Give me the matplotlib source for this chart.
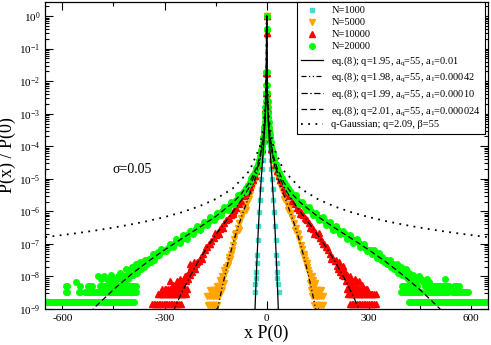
import numpy as np
import matplotlib
matplotlib.use('Agg')
import matplotlib.pyplot as plt
from matplotlib.ticker import LogLocator, MultipleLocator, NullFormatter, LogFormatterMathtext

plt.rcParams['font.family'] = ['Liberation Serif', 'DejaVu Serif']
plt.rcParams['mathtext.fontset'] = 'custom'
plt.rcParams['mathtext.rm'] = 'Liberation Serif'
plt.rcParams['mathtext.it'] = 'Liberation Serif:italic'
plt.rcParams['mathtext.default'] = 'regular'
plt.rcParams['axes.unicode_minus'] = False

# ---------------- data (x = x P(0), values given as log10 of P(x)/P(0)) ----------------
# model curves, right half (symmetric)
eqA_x = [0, 0.2, 0.5, 1, 2, 3, 5, 8, 12, 16, 20, 25, 30, 33, 35]
eqA_ly = [0, -0.516, -1.209, -1.819, -2.453, -2.833, -3.336, -3.856, -4.428, -5.007,
          -5.664, -6.650, -7.846, -8.666, -9.257]
eqB_x = [0, 0.2, 0.5, 1, 2, 3, 5, 10, 20, 30, 40, 50, 60, 70, 80, 90, 100, 110, 120,
         130, 140, 145]
eqB_ly = [0, -0.509, -1.185, -1.775, -2.384, -2.742, -3.196, -3.817, -4.459, -4.866,
          -5.190, -5.482, -5.764, -6.052, -6.356, -6.683, -7.038, -7.426, -7.847,
          -8.304, -8.797, -9.057]
eqC_x = [0, 0.2, 0.5, 1, 2, 5, 10, 20, 30, 50, 75, 100, 125, 150, 175, 200, 225, 250, 275]
eqC_ly = [0, -0.507, -1.177, -1.762, -2.364, -3.167, -3.776, -4.391, -4.757, -5.241,
          -5.669, -6.029, -6.372, -6.726, -7.107, -7.527, -7.994, -8.512, -9.083]
eqD_x = [0, 0.2, 0.5, 1, 2, 5, 10, 20, 30, 50, 75, 100, 150, 200, 250, 300, 350, 400,
         450, 500, 520]
eqD_ly = [0, -0.503, -1.161, -1.735, -2.325, -3.112, -3.708, -4.306, -4.657, -5.105,
          -5.470, -5.741, -6.159, -6.509, -6.842, -7.184, -7.551, -7.956, -8.405,
          -8.902, -9.115]
qg_x = [0, 0.2, 0.5, 1, 2, 5, 10, 20, 50, 100, 150, 200, 250, 300, 350, 400, 450, 500,
        550, 600, 650]
qg_ly = [0, -0.487, -1.104, -1.638, -2.185, -2.914, -3.466, -4.018, -4.748, -5.301,
         -5.624, -5.853, -6.031, -6.176, -6.299, -6.405, -6.499, -6.583, -6.659,
         -6.728, -6.792]

# N=1000 (right half, mirrored)
n1000_x = [0, 1, 2, 3, 4, 5, 6, 8, 10, 12, 14, 16, 18, 20, 22, 24, 26, 28, 29, 30, 31,
           33, 35]
n1000_ly = [0, -1.82, -2.45, -2.83, -3.11, -3.34, -3.53, -3.86, -4.15, -4.43, -4.71,
            -5.01, -5.32, -5.66, -6.03, -6.44, -6.87, -7.34, -7.59, -7.85, -8.05,
            -8.22, -8.47]

# N=5000 body (mirrored) and tails
n5000_x = [0, 0.2, 1, 2, 3, 5, 7, 10, 15, 20, 25, 30, 35, 40, 45, 50, 55, 60, 65, 70,
           75, 80, 85, 90, 95, 100, 52, 62, 72, 82, 92]
n5000_ly = [0, -0.51, -1.78, -2.38, -2.74, -3.20, -3.50, -3.82, -4.19, -4.46, -4.68,
            -4.87, -5.04, -5.19, -5.34, -5.48, -5.62, -5.76, -5.91, -6.05, -6.20,
            -6.36, -6.52, -6.68, -6.86, -7.04, -5.62, -5.95, -6.05, -6.58, -6.70]
n5000_tR_x = [103, 106, 109, 112, 115, 118, 121, 124, 127, 130, 133, 136, 139, 135, 128,
              142, 110, 118]
n5000_tR_ly = [-7.15, -7.30, -7.40, -7.50, -7.59, -7.71, -7.81, -7.89, -7.98, -8.11,
               -7.98, -8.19, -8.29, -8.11, -8.19, -8.19, -7.30, -7.59]
n5000_tL_x = [-103, -106, -109, -112, -115, -118, -121, -124, -127, -130, -133, -136,
              -140, -126, -131, -145, -112]
n5000_tL_ly = [-7.20, -7.30, -7.45, -7.50, -7.65, -7.71, -7.89, -7.81, -8.05, -8.11,
               -8.19, -8.11, -8.29, -8.19, -7.98, -8.29, -7.40]
# rows of equal count: (log10 level, x from, x to)
n5000_rows = [(-8.41, 129, 159), (-8.59, 134, 164), (-8.89, 139, 168),
              (-8.41, -166, -131), (-8.59, -174, -138), (-8.89, -171, -142)]

# N=10000 body (mirrored) and tails
n10000_x = [0, 0.2, 1, 2, 3.5, 5, 7, 10, 14, 20, 25, 30, 35, 40, 45, 50, 55, 60, 67, 75,
            82, 90, 95, 100, 106, 112, 118, 125, 131, 137, 143, 150, 156, 162, 168,
            175, 181, 187, 193, 200,
            78, 98, 115, 128, 140, 153, 165, 178, 190]
n10000_ly = [0, -0.51, -1.76, -2.36, -2.85, -3.17, -3.46, -3.78, -4.07, -4.39, -4.59,
             -4.76, -4.90, -5.03, -5.14, -5.24, -5.34, -5.43, -5.54, -5.67, -5.77,
             -5.89, -5.96, -6.03, -6.11, -6.19, -6.28, -6.37, -6.46, -6.54, -6.62,
             -6.73, -6.81, -6.90, -7.00, -7.11, -7.20, -7.30, -7.40, -7.53,
             -5.64, -6.09, -6.24, -6.50, -6.70, -6.68, -7.00, -7.09, -7.45]
n10000_tR_x = [204, 207, 210, 213, 216, 219, 222, 225, 228, 231, 234, 237, 240, 243,
               246, 250, 254, 258, 262, 266, 272, 280, 211, 224]
n10000_tR_ly = [-7.50, -7.67, -7.77, -7.62, -7.85, -7.72, -7.95, -7.77, -8.00, -7.85,
                -8.15, -7.95, -8.07, -8.25, -8.00, -8.15, -8.25, -8.07, -8.15, -8.25,
                -8.15, -8.25, -7.55, -7.67]
n10000_tL_x = [-204, -207, -210, -213, -216, -219, -222, -225, -228, -231, -234, -237,
               -240, -243, -246, -250, -254, -258, -263, -268, -275, -285, -214, -226]
n10000_tL_ly = [-7.55, -7.62, -7.77, -7.67, -7.77, -7.85, -7.72, -7.95, -7.85, -8.07,
                -7.95, -8.15, -8.00, -8.07, -8.25, -8.15, -8.07, -8.25, -8.15, -8.25,
                -8.25, -8.15, -7.55, -7.62]
n10000_rows = [(-8.38, 236, 300), (-8.55, 240, 324), (-8.85, 245, 324),
               (-8.38, -300, -232), (-8.38, -308, -308), (-8.55, -318, -238),
               (-8.85, -337, -252)]

# N=20000 body (mirrored) and tails
n20000_x = [0, 0.15, 1.0, 1.6, 2.1, 2.8, 3.5, 4.3, 5, 6, 7, 8, 9, 10, 12, 14, 16, 18, 20,
            23, 26, 30, 35, 40, 45, 50, 56, 62, 68, 75, 82, 90, 100, 110, 120, 130, 140,
            150, 160, 170, 180, 190, 200, 210, 220, 230, 240, 250, 260, 270, 280, 290,
            300,
            65, 85, 95, 105, 115, 125, 135, 145, 155, 165, 175, 185, 195, 205, 215, 225,
            235, 245, 255, 265, 275, 285, 295]
n20000_ly = [0, -0.40, -1.73, -2.13, -2.36, -2.60, -2.80, -2.98, -3.11, -3.27, -3.40,
             -3.51, -3.61, -3.71, -3.86, -3.99, -4.10, -4.21, -4.31, -4.42, -4.53, -4.66,
             -4.78, -4.88, -4.99, -5.10, -5.19, -5.28, -5.37, -5.47, -5.55, -5.64, -5.74,
             -5.83, -5.92, -6.00, -6.08, -6.16, -6.23, -6.30, -6.37, -6.44, -6.51, -6.58,
             -6.64, -6.71, -6.78, -6.84, -6.91, -6.98, -7.05, -7.12, -7.18,
             -5.42, -5.50, -5.78, -5.70, -5.96, -5.88, -6.12, -6.04, -6.27, -6.18,
             -6.42, -6.33, -6.56, -6.46, -6.70, -6.59, -6.84, -6.72, -6.97, -6.86,
             -7.10, -7.00, -7.22]
n20000_tR_x = [305, 310, 315, 320, 325, 330, 335, 340, 345, 350, 352, 358, 362, 366, 370,
               374, 378, 382, 386, 390, 394, 398, 402, 406, 410, 414, 418, 422, 426, 430,
               434, 440, 446, 452, 460, 470, 478, 525]
n20000_tR_ly = [-7.20, -7.32, -7.18, -7.30, -7.42, -7.28, -7.48, -7.40, -7.55, -7.48,
                -7.61, -7.61, -7.48, -7.70, -7.61, -7.78, -7.70, -7.61, -7.88, -7.78,
                -7.70, -7.94, -7.88, -8.00, -7.78, -8.08, -7.88, -8.00, -8.18, -7.94,
                -8.08, -8.18, -8.00, -8.08, -8.18, -8.08, -8.18, -8.08]
n20000_tL_x = [-305, -310, -315, -320, -325, -330, -335, -340, -345, -350, -356, -360,
               -364, -368, -372, -376, -380, -384, -388, -392, -396, -400, -404, -408,
               -412, -416, -420, -424, -428, -432, -438, -444, -450, -456, -462, -470,
               -478, -486, -494, -560]
n20000_tL_ly = [-7.22, -7.15, -7.34, -7.25, -7.38, -7.48, -7.30, -7.55, -7.45, -7.61,
                -7.50, -7.70, -7.61, -7.78, -7.55, -7.70, -7.88, -7.61, -7.78, -7.94,
                -7.70, -8.00, -7.88, -8.08, -7.78, -8.00, -8.18, -7.94, -8.08, -7.88,
                -8.00, -8.18, -8.08, -7.94, -8.18, -8.08, -8.00, -8.08, -8.00, -8.18]
n20000_rows = [(-8.30, 396, 445), (-8.30, 465, 535), (-8.30, 550, 565),
               (-8.48, 394, 457), (-8.48, 467, 535), (-8.48, 545, 594),
               (-8.78, 418, 650),
               (-8.30, -590, -585), (-8.30, -549, -545), (-8.30, -524, -514),
               (-8.30, -490, -382),
               (-8.48, -590, -585), (-8.48, -552, -546), (-8.48, -534, -382),
               (-8.78, -651, -391)]

legend_labels = ['N=1000', 'N=5000', 'N=10000', 'N=20000',
                 'eq.(8); q=1.95, a$_q$=55, a$_1$=0.01',
                 'eq.(8); q=1.98, a$_q$=55, a$_1$=0.00042',
                 'eq.(8); q=1.99, a$_q$=55, a$_1$=0.00010',
                 'eq.(8); q=2.01, a$_q$=55, a$_1$=0.000024',
                 'q-Gaussian; q=2.09, β=55']

# ---------------- helpers ----------------
def mirror_curve(x, ly):
    x = np.asarray(x, float)
    ly = np.asarray(ly, float)
    xf = np.concatenate([-x[::-1], x[1:]])
    yf = np.concatenate([ly[::-1], ly[1:]])
    return xf, 10.0 ** yf


def mirror_pts(x, ly):
    x = np.asarray(x, float)
    ly = np.asarray(ly, float)
    return np.concatenate([-x, x]), 10.0 ** np.concatenate([ly, ly])


def rows_pts(rows, step=5.0):
    xs, ys = [], []
    for lv, a, b in rows:
        xr = np.arange(a, b + 0.01, step) if b > a else np.array([a])
        xs.append(xr)
        ys.append(np.full(len(xr), lv))
    return np.concatenate(xs), 10.0 ** np.concatenate(ys)


def series(body_x, body_ly, tails, rows):
    bx, by = mirror_pts(body_x, body_ly)
    xs, ys = [bx], [by]
    for tx, tl in tails:
        xs.append(np.asarray(tx, float))
        ys.append(10.0 ** np.asarray(tl, float))
    if rows:
        rx, ry = rows_pts(rows)
        xs.append(rx)
        ys.append(ry)
    return np.concatenate(xs), np.concatenate(ys)


# ---------------- figure ----------------
fig = plt.figure(figsize=(4.91, 3.45), dpi=100)
ax = fig.add_axes([0.0923, 0.1043, 0.9016, 0.8899])

c_cyan = '#40e0d0'
c_orange = '#ffa500'
c_red = '#ff0000'
c_green = '#00ff00'

x1, y1 = series(n1000_x, n1000_ly, [], [])
x2, y2 = series(n5000_x, n5000_ly, [(n5000_tR_x, n5000_tR_ly), (n5000_tL_x, n5000_tL_ly)], n5000_rows)
x3, y3 = series(n10000_x, n10000_ly, [(n10000_tR_x, n10000_tR_ly), (n10000_tL_x, n10000_tL_ly)], n10000_rows)
x4, y4 = series(n20000_x, n20000_ly, [(n20000_tR_x, n20000_tR_ly), (n20000_tL_x, n20000_tL_ly)], n20000_rows)

h1, = ax.plot(x1, y1, ls='none', marker='s', ms=3.0, mfc=c_cyan, mec=c_cyan, zorder=2)
h2, = ax.plot(x2, y2, ls='none', marker='v', ms=4.0, mfc=c_orange, mec=c_orange, zorder=2)
h3, = ax.plot(x3, y3, ls='none', marker='^', ms=4.0, mfc=c_red, mec=c_red, zorder=2)
h4, = ax.plot(x4, y4, ls='none', marker='o', ms=4.0, mfc=c_green, mec=c_green, zorder=2)

lw = 0.9
cx, cy = mirror_curve(eqA_x, eqA_ly)
l1, = ax.plot(cx, cy, color='black', lw=lw, ls='-', zorder=3)
cx, cy = mirror_curve(eqB_x, eqB_ly)
l2, = ax.plot(cx, cy, color='black', lw=lw, ls=(0, (4, 2, 1, 2, 1, 2)), zorder=3)
cx, cy = mirror_curve(eqC_x, eqC_ly)
l3, = ax.plot(cx, cy, color='black', lw=lw, ls=(0, (5, 2, 1.2, 2)), zorder=3)
cx, cy = mirror_curve(eqD_x, eqD_ly)
l4, = ax.plot(cx, cy, color='black', lw=lw, ls=(0, (4.5, 2.5)), zorder=3)
cx, cy = mirror_curve(qg_x, qg_ly)
l5, = ax.plot(cx, cy, color='black', lw=1.3, ls=(0, (1, 3.0)), zorder=3)

ax.set_yscale('log')
ax.set_xlim(-650, 650)
ax.set_ylim(1e-9, 2.7)

ax.set_xticks([-600, -300, 0, 300, 600])
ax.xaxis.set_minor_locator(MultipleLocator(150))
ax.set_yticks([10.0 ** k for k in range(-9, 1)])
ax.yaxis.set_major_formatter(LogFormatterMathtext())
ax.yaxis.set_minor_locator(LogLocator(base=10, subs=np.arange(2, 10), numticks=30))
ax.yaxis.set_minor_formatter(NullFormatter())

ax.tick_params(which='both', direction='in', top=True, right=True, labelsize=8, width=0.8)
ax.tick_params(which='major', length=6)
ax.tick_params(which='minor', length=3)
for sp in ax.spines.values():
    sp.set_linewidth(0.9)

ax.set_xlabel('x P(0)', fontsize=13, labelpad=1)
ax.set_ylabel('P(x) / P(0)', fontsize=13, labelpad=2)

ax.text(-395, 10 ** -4.70, 'σ=0.05', fontsize=10, ha='center', va='center')

leg = ax.legend([h1, h2, h3, h4, l1, l2, l3, l4, l5], legend_labels,
                loc='upper right', bbox_to_anchor=(1 - 3 / 443, 1.0), borderaxespad=0,
                fontsize=7.5, frameon=True, fancybox=False, edgecolor='black',
                framealpha=1, handlelength=2.1, handletextpad=0.8, labelspacing=0.25,
                borderpad=0.4, numpoints=1)
leg.get_frame().set_linewidth(0.8)

fig.savefig('out.png', dpi=100)
